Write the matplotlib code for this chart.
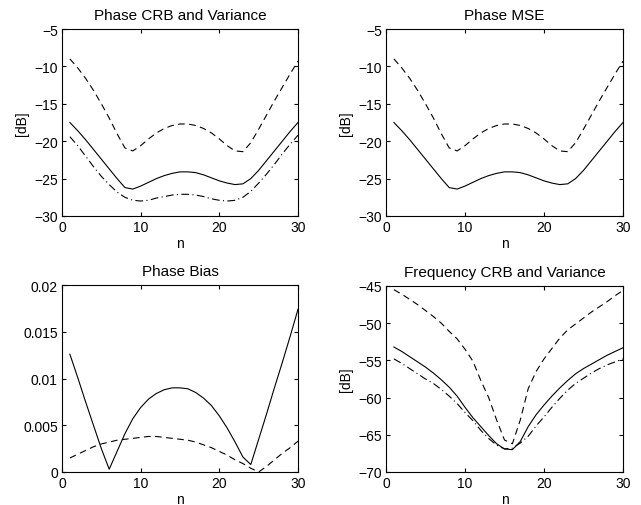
import matplotlib
matplotlib.use("Agg")
import matplotlib.pyplot as plt

plt.rcParams.update({"font.family": "Liberation Sans", "font.size": 10,
                     "xtick.direction": "in", "ytick.direction": "in",
                     "xtick.top": True, "ytick.right": True,
                     "xtick.major.size": 3, "ytick.major.size": 3,
                     "axes.linewidth": 0.8})

n = list(range(1, 31))

# ---- phase CRB / variance (dB) ----
ph_var_a = [-9.0, -10.2, -11.6, -13.2, -15.0, -16.9, -19.0, -20.9, -21.3, -20.6,
            -19.7, -18.9, -18.3, -17.9, -17.7, -17.7, -17.9, -18.3, -18.9, -19.7,
            -20.6, -21.3, -21.4, -20.2, -18.4, -16.5, -14.6, -12.8, -11.0, -9.3]
ph_var_b = [-17.5, -18.6, -19.8, -21.1, -22.4, -23.7, -25.0, -26.2, -26.4, -26.0,
            -25.5, -25.0, -24.6, -24.3, -24.1, -24.1, -24.2, -24.5, -24.9, -25.3,
            -25.6, -25.8, -25.7, -25.0, -23.9, -22.6, -21.3, -20.0, -18.7, -17.5]
ph_crb = [-19.4, -20.6, -22.0, -23.4, -24.7, -25.8, -26.8, -27.5, -27.9, -28.0,
          -27.9, -27.6, -27.4, -27.2, -27.1, -27.1, -27.2, -27.4, -27.7, -27.9,
          -28.0, -27.9, -27.5, -26.7, -25.6, -24.4, -23.1, -21.7, -20.4, -19.2]

# ---- phase MSE (dB) ----
ph_mse_a = [-9.0, -10.2, -11.6, -13.2, -15.0, -16.9, -19.0, -20.9, -21.3, -20.6,
            -19.7, -18.9, -18.3, -17.9, -17.7, -17.7, -17.9, -18.3, -18.9, -19.7,
            -20.6, -21.3, -21.4, -20.2, -18.4, -16.5, -14.6, -12.8, -11.0, -9.3]
ph_mse_b = [-17.5, -18.6, -19.8, -21.1, -22.4, -23.7, -25.0, -26.2, -26.4, -26.0,
            -25.5, -25.0, -24.6, -24.3, -24.1, -24.1, -24.2, -24.5, -24.9, -25.3,
            -25.6, -25.8, -25.7, -25.0, -23.9, -22.6, -21.3, -20.0, -18.7, -17.5]

# ---- phase bias ----
bias_b = [0.0126, 0.0101, 0.0075, 0.0050, 0.0025, 0.0003, 0.0022, 0.0041, 0.0057, 0.0069,
          0.0078, 0.0084, 0.0088, 0.0090, 0.0090, 0.0089, 0.0085, 0.0079, 0.0071, 0.0060,
          0.0047, 0.0032, 0.0016, 0.0008, 0.0035, 0.0062, 0.0090, 0.0117, 0.0145, 0.0174]
bias_a = [0.0015, 0.0019, 0.0023, 0.0027, 0.0030, 0.0032, 0.0034, 0.0035, 0.0036, 0.0037,
          0.0038, 0.0038, 0.0037, 0.0036, 0.0035, 0.0034, 0.0032, 0.0029, 0.0026, 0.0022,
          0.0018, 0.0013, 0.0009, 0.0004, 0.0000, 0.0006, 0.0013, 0.0020, 0.0026, 0.0033]

# ---- frequency CRB / variance (dB) ----
fr_var_a = [-45.5, -46.1, -46.8, -47.5, -48.3, -49.1, -50.0, -51.1, -52.1, -53.5,
            -55.1, -57.7, -60.0, -63.0, -65.7, -66.2, -63.0, -58.8, -56.5, -54.8,
            -53.4, -52.0, -50.9, -50.1, -49.3, -48.5, -47.8, -47.1, -46.3, -45.6]
fr_var_b = [-53.2, -53.8, -54.5, -55.2, -55.9, -56.7, -57.6, -58.6, -59.8, -61.3,
            -62.7, -63.9, -65.1, -66.2, -66.9, -67.0, -65.9, -63.9, -62.3, -61.0,
            -59.8, -58.7, -57.7, -56.8, -56.1, -55.5, -54.9, -54.3, -53.8, -53.3]
fr_crb = [-54.8, -55.4, -56.1, -56.8, -57.5, -58.1, -58.9, -59.8, -60.8, -62.0,
          -63.1, -64.4, -65.5, -66.4, -66.9, -66.8, -66.1, -65.2, -63.8, -62.6,
          -61.3, -60.1, -59.0, -58.1, -57.4, -56.7, -56.1, -55.6, -55.2, -54.8]

fig = plt.figure(figsize=(6.41, 5.06), dpi=100)
W, H = 641, 506
def box(l, t, r, b):
    return [l / W, (H - b) / H, (r - l) / W, (b - t) / H]

ax1 = fig.add_axes(box(62, 30, 298, 217))
ax2 = fig.add_axes(box(386, 30, 623, 217))
ax3 = fig.add_axes(box(62, 286, 298, 473))
ax4 = fig.add_axes(box(386, 287, 623, 473))

lw = 0.8
dash = (0, (6, 4))
dashdot = (0, (7, 3, 1, 3))

ax1.plot(n, ph_var_a, color="k", lw=lw, ls=dash)
ax1.plot(n, ph_var_b, color="k", lw=lw)
ax1.plot(n, ph_crb, color="k", lw=lw, ls=dashdot)
ax1.set_ylim(-30, -5); ax1.set_yticks([-30, -25, -20, -15, -10, -5])
ax1.set_title("Phase CRB and Variance", fontsize=11, pad=7)
ax1.set_ylabel("[dB]")

ax2.plot(n, ph_mse_a, color="k", lw=lw, ls=dash)
ax2.plot(n, ph_mse_b, color="k", lw=lw)
ax2.set_ylim(-30, -5); ax2.set_yticks([-30, -25, -20, -15, -10, -5])
ax2.set_title("Phase MSE", fontsize=11, pad=7)
ax2.set_ylabel("[dB]")

ax3.plot(n, bias_b, color="k", lw=lw)
ax3.plot(n, bias_a, color="k", lw=lw, ls=dash)
ax3.set_ylim(0, 0.02); ax3.set_yticks([0, 0.005, 0.01, 0.015, 0.02])
ax3.set_yticklabels(["0", "0.005", "0.01", "0.015", "0.02"])
ax3.set_title("Phase Bias", fontsize=11, pad=7)

ax4.plot(n, fr_var_a, color="k", lw=lw, ls=dash)
ax4.plot(n, fr_var_b, color="k", lw=lw)
ax4.plot(n, fr_crb, color="k", lw=lw, ls=dashdot)
ax4.set_ylim(-70, -45); ax4.set_yticks([-70, -65, -60, -55, -50, -45])
ax4.set_title("Frequency CRB and Variance", fontsize=11, pad=7)
ax4.set_ylabel("[dB]")

for ax in (ax1, ax2, ax3, ax4):
    ax.set_xlim(0, 30); ax.set_xticks([0, 10, 20, 30])
    ax.set_xlabel("n", labelpad=1)
    ax.tick_params(labelsize=10, pad=3)

fig.savefig("out.png", dpi=100, facecolor="white")
